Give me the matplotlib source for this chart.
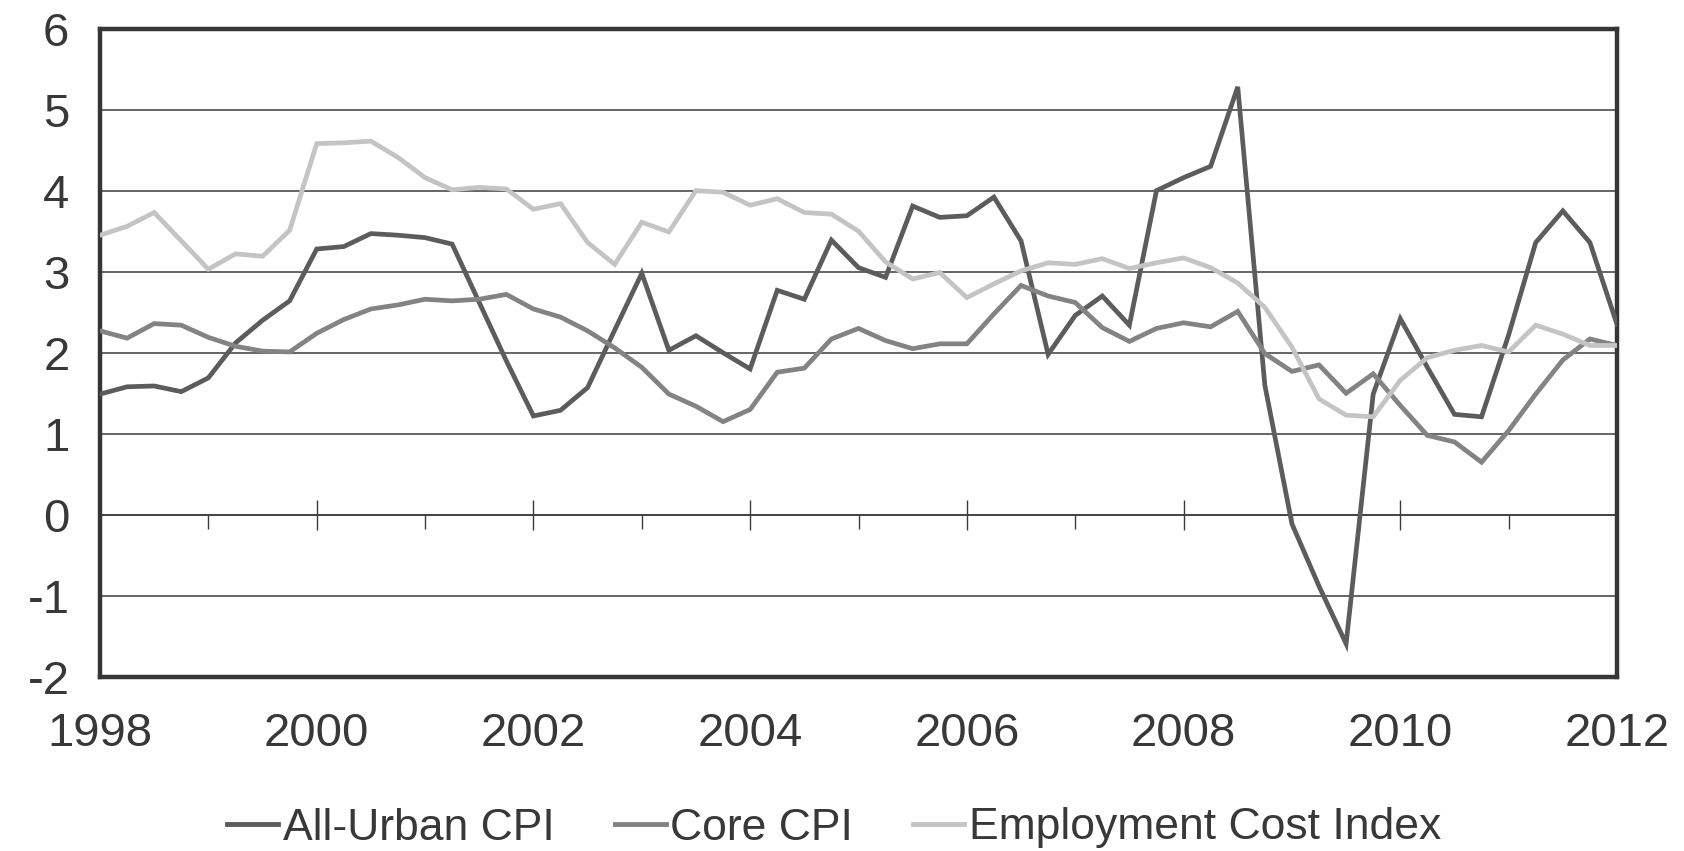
import numpy as np
import matplotlib
matplotlib.use("Agg")
import matplotlib.pyplot as plt
from matplotlib.ticker import FixedLocator

plt.rcParams['font.family'] = ['Liberation Sans', 'DejaVu Sans']
fs = 34
legend_fs = 32

# Quarterly data, 1998Q1 .. 2012Q1 (year-over-year % change)
start_year = 1998
all_urban_cpi = [1.49, 1.58, 1.59, 1.52, 1.69, 2.12, 2.40, 2.64, 3.28, 3.31,
                 3.47, 3.45, 3.42, 3.34, 2.62, 1.90, 1.22, 1.29, 1.57, 2.28,
                 2.98, 2.03, 2.21, 2.00, 1.80, 2.77, 2.66, 3.39, 3.05, 2.93,
                 3.81, 3.67, 3.69, 3.92, 3.38, 1.98, 2.46, 2.70, 2.34, 4.00,
                 4.16, 4.30, 5.28, 1.60, -0.11, -0.88, -1.59, 1.49, 2.42, 1.82,
                 1.24, 1.21, 2.22, 3.36, 3.75, 3.36, 2.35]
core_cpi = [2.27, 2.18, 2.36, 2.34, 2.19, 2.08, 2.02, 2.01, 2.24, 2.41,
            2.54, 2.59, 2.66, 2.64, 2.66, 2.72, 2.54, 2.44, 2.27, 2.06,
            1.82, 1.49, 1.34, 1.15, 1.30, 1.76, 1.81, 2.17, 2.30, 2.15,
            2.05, 2.11, 2.11, 2.48, 2.83, 2.70, 2.62, 2.31, 2.14, 2.30,
            2.37, 2.32, 2.51, 1.99, 1.77, 1.85, 1.50, 1.74, 1.35, 0.98,
            0.90, 0.65, 1.04, 1.49, 1.91, 2.17, 2.09]
eci = [3.45, 3.56, 3.73, 3.38, 3.03, 3.22, 3.19, 3.51, 4.58, 4.59,
       4.61, 4.41, 4.16, 4.01, 4.04, 4.02, 3.77, 3.84, 3.36, 3.09,
       3.61, 3.49, 4.00, 3.98, 3.82, 3.90, 3.73, 3.71, 3.50, 3.12,
       2.91, 2.99, 2.68, 2.85, 3.01, 3.11, 3.09, 3.16, 3.04, 3.11,
       3.17, 3.05, 2.86, 2.56, 2.07, 1.43, 1.23, 1.21, 1.66, 1.94,
       2.03, 2.09, 2.01, 2.34, 2.23, 2.09, 2.09]
series_names = ["All-Urban CPI", "Core CPI", "Employment Cost Index"]
series_colors = ["#5c5c5c", "#838383", "#c4c4c4"]
year_ticks = [1998, 2000, 2002, 2004, 2006, 2008, 2010, 2012]
odd_years = [1999, 2001, 2003, 2005, 2007, 2009, 2011]
y_ticks = [-2, -1, 0, 1, 2, 3, 4, 5, 6]

x = start_year + np.arange(len(all_urban_cpi)) / 4.0

fig = plt.figure(figsize=(16.84, 8.51), dpi=100)
ax = fig.add_axes([100/1684, 1-677/851, 1517/1684, (677-28.5)/851])

text_color = "#383838"

ax.set_ylim(-2, 6)
ax.set_xlim(1998, 2012)
ax.set_yticks(y_ticks)
ax.yaxis.grid(True, color="#3c3c3c", linewidth=1.1)
ax.set_axisbelow(True)

for vals, name, col in zip([all_urban_cpi, core_cpi, eci], series_names, series_colors):
    ax.plot(x, vals, color=col, linewidth=3.4, label=name, solid_joinstyle='miter', zorder=3)

for sp in ax.spines.values():
    sp.set_color("#363636")
    sp.set_linewidth(3.2)

ax.set_xticks(year_ticks)
ax.set_xticklabels([str(y) for y in year_ticks])
ax.tick_params(axis='x', length=0, pad=25, labelsize=fs, labelcolor=text_color)
ax.tick_params(axis='y', length=0, pad=22, labelsize=fs, labelcolor=text_color)
ax.set_yticklabels([str(v) for v in y_ticks])

# category axis crossing at zero with tick marks
sec = ax.secondary_xaxis(0.25)
sec.spines['bottom'].set_linewidth(1.1)
sec.spines['bottom'].set_color("#3c3c3c")
sec.xaxis.set_major_locator(FixedLocator(year_ticks[1:-1]))
sec.xaxis.set_minor_locator(FixedLocator(odd_years))
sec.tick_params(axis='x', which='major', direction='inout', length=22, width=1.0,
                color="#3c3c3c", labelbottom=False)
sec.tick_params(axis='x', which='minor', direction='out', length=10, width=1.0,
                color="#3c3c3c", labelbottom=False)

leg = fig.legend(loc='center', bbox_to_anchor=(834/1684, 1-828/851), ncol=3,
                 frameon=False, fontsize=legend_fs, handlelength=1.15, handletextpad=0.1,
                 columnspacing=1.35, labelcolor=text_color)
for line in leg.get_lines():
    line.set_linewidth(3.5)

fig.savefig("out.png", dpi=100, facecolor="white")
